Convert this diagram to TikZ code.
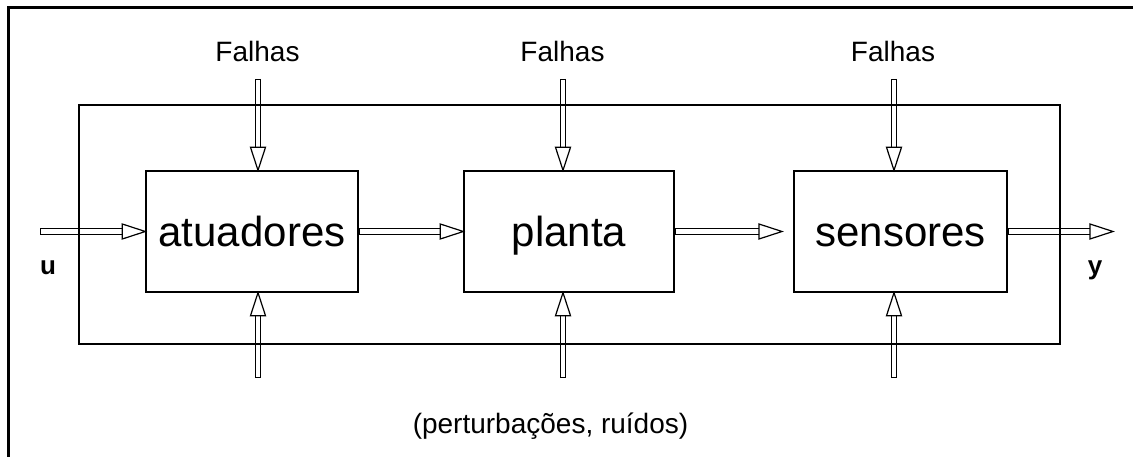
\documentclass[tikz,border=0pt]{standalone}
\usepackage{fontspec}
\setmainfont{Liberation Sans}
\usetikzlibrary{decorations.markings}
\begin{document}
\begin{tikzpicture}[x=1pt,y=-1pt,
  blk/.style={draw, line width=1.4pt, minimum height=121pt, inner sep=0pt,
    font=\fontsize{42}{46}\selectfont, text height=30pt, text depth=0pt},
  lbl/.style={font=\fontsize{28}{32}\selectfont, anchor=base, inner sep=0pt},
  io/.style={font=\bfseries\fontsize{26}{30}\selectfont, anchor=base, inner sep=0pt},
  hollow/.style={
    decoration={markings, mark=at position 1 with {
      \filldraw[fill=white, draw=black, line width=1.2pt, line join=miter]
        (0,0) -- (-23,7.5) -- (-23,-7.5) -- cycle;}},
    preaction={draw=black, line width=6.8pt, shorten >=22pt},
    postaction={draw=white, line width=4.2pt, shorten >=22pt, shorten <=1.3pt},
    postaction={decorate}},
  frame/.style={draw, line width=1.4pt}
]
\useasboundingbox (0,0) rectangle (1133,457);
% outer border (top and left visible)
\draw[line width=2.7pt] (8.7,457) -- (8.7,7.5) -- (1133,7.5);

% blocks
\node[blk, minimum width=212pt] (a) at (252,231.5) {atuadores};
\node[blk, minimum width=210pt] (p) at (569,231.5) {planta};
\node[blk, minimum width=213pt] (s) at (900.5,231.5) {sensores};

% labels
\node[lbl] (f1) at (257.5,62) {Falhas};
\node[lbl] (f2) at (562.5,62) {Falhas};
\node[lbl] (f3) at (893,62) {Falhas};
\node[lbl] (pr) at (550.5,433) {(perturbações, ruídos)};
\node[io] (u) at (48,275) {u};
\node[io] (y) at (1095,275) {y};

% connector end points
\coordinate (uin) at (40,231.5);
\coordinate (yout) at (1113,231.5);
\coordinate (sin) at (782,231.5);
\coordinate (t1) at (258,79);
\coordinate (t2) at (563,79);
\coordinate (t3) at (894,79);
\coordinate (b1) at (258,378);
\coordinate (b2) at (563,378);
\coordinate (b3) at (894,378);

% horizontal arrows
\path[hollow] (uin) -- (a.west);
\path[hollow] (a.east) -- (p.west);
\path[hollow] (p.east) -- (sin);
\path[hollow] (s.east) -- (yout);

% vertical arrows
\path[hollow] (t1) -- (t1 |- a.north);
\path[hollow] (t2) -- (t2 |- p.north);
\path[hollow] (t3) -- (t3 |- s.north);
\path[hollow] (b1) -- (b1 |- a.south);
\path[hollow] (b2) -- (b2 |- p.south);
\path[hollow] (b3) -- (b3 |- s.south);

% surrounding frame
\draw[frame] (79,105) rectangle (1060,344);
\end{tikzpicture}
\end{document}
